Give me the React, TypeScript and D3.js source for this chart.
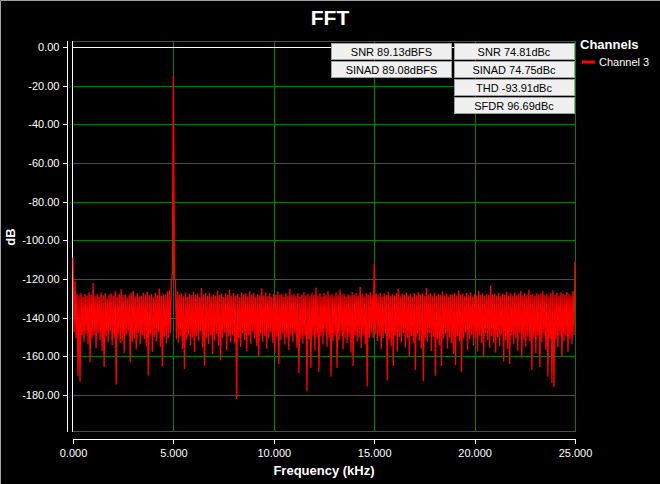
import { useEffect, useRef } from 'react';
import * as d3 from 'd3';

// FFT bins, 0.05 kHz apart (0 .. 25 kHz)
const binWidthKhz = 0.05;
const spectrumDb = [
    -109.0, -147.5, -120.8, -150.6, -127.9, -170.2, -128.6, -173.1, -127.3, -149.1,
    -129.2, -152.4, -127.8, -148.3, -128.5, -153.9, -126.9, -163.0, -128.1, -150.7,
    -122.1, -149.2, -128.7, -155.8, -127.6, -147.9, -129.3, -151.5, -126.8, -157.2,
    -128.4, -165.5, -127.2, -149.6, -130.1, -152.8, -128.0, -146.9, -127.5, -154.1,
    -128.8, -150.3, -126.4, -174.6, -129.0, -148.7, -127.7, -153.2, -125.3, -151.9,
    -128.3, -158.4, -127.9, -149.0, -129.6, -147.3, -128.2, -163.1, -127.0, -152.6,
    -126.1, -150.8, -128.9, -156.4, -127.4, -148.2, -129.1, -153.7, -128.6, -149.4,
    -127.3, -151.2, -128.0, -154.9, -126.7, -170.0, -128.5, -148.5, -127.8, -157.7,
    -129.4, -150.0, -127.1, -152.3, -128.3, -147.6, -124.9, -155.1, -128.7, -165.2,
    -127.6, -149.9, -128.2, -153.4, -126.5, -150.5, -125.8, -148.0, -121.2, -116.8,
    -14.5, -119.6, -120.8, -150.9, -126.3, -153.0, -128.1, -149.3, -127.4, -156.2,
    -128.9, -166.5, -127.0, -151.4, -129.2, -148.8, -127.7, -154.3, -128.4, -150.1,
    -126.6, -157.9, -128.0, -149.5, -127.5, -152.1, -129.5, -147.2, -124.6, -155.4,
    -128.2, -165.0, -127.3, -150.4, -128.8, -153.6, -127.1, -149.1, -129.0, -158.8,
    -127.9, -151.7, -128.6, -148.4, -126.2, -154.5, -128.3, -162.0, -127.6, -150.2,
    -129.3, -147.8, -127.4, -156.9, -128.1, -149.7, -125.6, -152.9, -128.7, -148.9,
    -127.2, -153.3, -128.5, -182.0, -127.8, -150.6, -129.4, -155.2, -126.9, -148.1,
    -128.0, -151.6, -127.5, -157.4, -128.9, -149.2, -126.4, -153.8, -128.2, -147.4,
    -127.3, -150.9, -129.1, -154.7, -127.9, -160.3, -128.4, -148.6, -124.8, -152.4,
    -128.6, -149.5, -127.0, -156.1, -128.8, -150.7, -127.4, -147.7, -129.2, -153.1,
    -127.7, -158.3, -128.3, -149.8, -126.5, -164.0, -128.1, -151.5, -127.6, -148.3,
    -129.0, -154.0, -127.2, -150.3, -128.7, -156.7, -125.1, -149.0, -128.4, -152.7,
    -127.9, -148.2, -128.6, -155.6, -127.3, -168.6, -129.3, -150.8, -128.0, -153.5,
    -126.8, -149.4, -128.5, -178.0, -127.7, -151.1, -128.9, -166.0, -127.1, -148.7,
    -128.3, -157.0, -124.5, -150.0, -128.8, -168.0, -127.5, -149.6, -129.1, -153.9,
    -127.4, -147.5, -128.2, -155.0, -126.3, -150.4, -128.7, -170.5, -127.8, -152.2,
    -128.9, -149.1, -127.0, -166.0, -128.4, -151.8, -125.4, -148.3, -128.1, -156.5,
    -127.6, -150.6, -129.2, -153.3, -127.9, -149.8, -128.5, -158.1, -126.7, -165.0,
    -128.3, -148.9, -127.2, -152.5, -128.8, -150.2, -124.2, -155.7, -127.6, -149.3,
    -128.9, -153.6, -127.4, -175.6, -128.1, -150.1, -126.9, -147.9, -128.6, -150.5,
    -112.0, -148.3, -127.7, -152.0, -128.4, -149.7, -127.1, -156.3, -129.0, -150.5,
    -127.5, -148.4, -128.2, -172.5, -126.6, -151.3, -128.7, -154.6, -127.9, -165.0,
    -128.5, -149.2, -127.3, -157.6, -125.0, -150.0, -128.9, -152.8, -127.6, -148.1,
    -128.1, -155.3, -127.0, -150.7, -128.6, -159.9, -127.8, -149.5, -129.3, -153.0,
    -127.2, -167.0, -128.4, -148.6, -126.8, -151.9, -128.0, -156.0, -127.5, -173.0,
    -128.8, -150.4, -124.7, -152.6, -128.2, -148.0, -127.4, -157.3, -128.9, -149.9,
    -127.1, -170.0, -128.6, -151.2, -127.8, -154.1, -128.3, -165.0, -126.4, -150.8,
    -128.7, -148.5, -127.5, -155.9, -129.1, -150.3, -127.9, -153.4, -128.0, -158.6,
    -127.3, -164.5, -128.5, -149.4, -125.9, -152.3, -128.1, -168.0, -127.6, -150.9,
    -128.9, -147.8, -127.2, -156.8, -128.4, -151.0, -127.0, -148.9, -129.0, -154.4,
    -127.7, -150.2, -128.6, -157.5, -126.1, -149.3, -128.2, -153.2, -127.4, -160.7,
    -128.8, -148.1, -127.9, -151.6, -128.3, -155.5, -123.4, -149.6, -128.0, -152.9,
    -127.5, -158.0, -128.7, -150.0, -127.1, -154.8, -128.9, -148.7, -127.6, -162.7,
    -128.2, -151.5, -126.6, -156.2, -128.5, -164.0, -127.3, -149.0, -128.8, -153.7,
    -127.0, -150.6, -128.4, -157.1, -127.8, -148.2, -126.2, -161.0, -128.6, -151.4,
    -127.4, -155.1, -128.1, -149.7, -125.6, -152.0, -128.3, -167.0, -127.9, -150.3,
    -128.7, -158.4, -127.2, -149.1, -128.0, -165.5, -127.5, -152.6, -126.5, -148.6,
    -128.4, -156.6, -127.7, -170.6, -128.9, -150.7, -127.3, -173.8, -125.8, -176.0,
    -128.1, -151.2, -127.0, -155.4, -128.6, -148.8, -126.9, -160.2, -127.6, -152.1,
    -128.3, -149.5, -126.7, -157.8, -127.8, -150.9, -128.5, -153.8, -126.2, -149.0,
    -111.0
];

const xTicks = [0, 5, 10, 15, 20, 25];
const yTicks = [0, -20, -40, -60, -80, -100, -120, -140, -160, -180];
const statsDbfs = ["SNR 89.13dBFS", "SINAD 89.08dBFS"];
const statsDbc = ["SNR 74.81dBc", "SINAD 74.75dBc", "THD -93.91dBc", "SFDR 96.69dBc"];
const channels = ["Channel 3"];

const font = '"Liberation Sans", Arial, sans-serif';

export default function App() {
    const svgRef = useRef<SVGSVGElement>(null);

    useEffect(() => {
        if (!svgRef.current) return;
        const svg = d3.select(svgRef.current);
        svg.selectAll("*").remove();

        const width = 660;
        const height = 484;
        const plotLeft = 73;
        const plotRight = 575;
        const plotTop = 41;
        const plotBottom = 431;

        const x = d3.scaleLinear().domain([0, 25]).range([plotLeft, plotRight]);
        const y = d3.scaleLinear().domain([0, -180]).range([47, 395]);

        svg.append("rect").attr("width", width).attr("height", height).attr("fill", "#000");
        // thin frame on top/left
        svg.append("path").attr("d", `M0.5,${height}V0.5H${width}`)
            .attr("fill", "none").attr("stroke", "#a0a0a0");

        // Gridlines
        const grid = svg.append("g").attr("shape-rendering", "crispEdges").attr("stroke", "#008000");
        grid.selectAll("line.h")
            .data(yTicks)
            .join("line")
            .attr("class", "h")
            .attr("x1", plotLeft).attr("x2", plotRight)
            .attr("y1", d => Math.round(y(d)) + 0.5).attr("y2", d => Math.round(y(d)) + 0.5);
        grid.selectAll("line.v")
            .data(xTicks.slice(1, -1))
            .join("line")
            .attr("class", "v")
            .attr("x1", d => Math.round(x(d)) + 0.5).attr("x2", d => Math.round(x(d)) + 0.5)
            .attr("y1", plotTop).attr("y2", plotBottom);
        grid.append("path")
            .attr("d", `M${plotLeft},${plotTop + 0.5}H${plotRight + 0.5}V${plotBottom + 0.5}H${plotLeft}`)
            .attr("fill", "none");

        // White markers at 0 dB and 0 Hz
        svg.append("line")
            .attr("x1", plotLeft).attr("x2", plotRight)
            .attr("y1", Math.round(y(0)) + 0.5).attr("y2", Math.round(y(0)) + 0.5)
            .attr("stroke", "#fff").attr("shape-rendering", "crispEdges");
        svg.append("line")
            .attr("x1", Math.round(x(0)) - 0.5).attr("x2", Math.round(x(0)) - 0.5)
            .attr("y1", plotTop).attr("y2", plotBottom + 1)
            .attr("stroke", "#fff").attr("shape-rendering", "crispEdges");

        // Spectrum trace
        const line = d3.line<number>()
            .x((d, i) => x(i * binWidthKhz))
            .y(d => y(d));
        svg.append("path")
            .datum(spectrumDb)
            .attr("d", line)
            .attr("fill", "none")
            .attr("stroke", "#ff0000")
            .attr("stroke-width", 1.3)
            .attr("stroke-linejoin", "miter")
            .attr("stroke-miterlimit", 1);

        // Y axis
        const yAxis = svg.append("g")
            .attr("transform", "translate(67.5,0)")
            .call(d3.axisLeft(y).tickValues(yTicks).tickSize(5).tickPadding(3)
                .tickFormat(d => (+d).toFixed(2)))
            .call(g => g.select(".domain").remove());
        yAxis.selectAll("line").attr("stroke", "#fff").attr("shape-rendering", "crispEdges");
        yAxis.selectAll("text").attr("fill", "#fff").style("font-family", font).style("font-size", "11px");
        svg.append("line")
            .attr("x1", 67.5).attr("x2", 67.5).attr("y1", plotTop).attr("y2", plotBottom + 1)
            .attr("stroke", "#fff").attr("shape-rendering", "crispEdges");

        // X axis
        const xAxis = svg.append("g")
            .attr("transform", "translate(0,438.5)")
            .call(d3.axisBottom(x).tickValues(xTicks).tickSize(5).tickSizeOuter(0).tickPadding(6)
                .tickFormat(d => (+d).toFixed(3)));
        xAxis.select(".domain").attr("stroke", "#fff").attr("shape-rendering", "crispEdges");
        xAxis.selectAll("line").attr("stroke", "#fff").attr("shape-rendering", "crispEdges");
        xAxis.selectAll("text").attr("fill", "#fff").style("font-family", font).style("font-size", "11px");

        // Axis titles
        svg.append("text")
            .attr("x", 324).attr("y", 475)
            .attr("text-anchor", "middle")
            .attr("fill", "#fff")
            .style("font-family", font).style("font-size", "13px").style("font-weight", "bold")
            .text("Frequency (kHz)");
        svg.append("text")
            .attr("transform", "translate(15,237) rotate(-90)")
            .attr("text-anchor", "middle")
            .attr("fill", "#fff")
            .style("font-family", font).style("font-size", "13px").style("font-weight", "bold")
            .text("dB");

        // Title
        svg.append("text")
            .attr("x", 330).attr("y", 25)
            .attr("text-anchor", "middle")
            .attr("fill", "#fff")
            .style("font-family", font).style("font-size", "21px").style("font-weight", "bold")
            .text("FFT");

        // Stat boxes
        const boxColumns = [
            { x0: 331, items: statsDbfs },
            { x0: 453.5, items: statsDbc }
        ];
        boxColumns.forEach(col => {
            const g = svg.append("g");
            g.selectAll("rect")
                .data(col.items)
                .join("rect")
                .attr("x", col.x0 + 0.5)
                .attr("y", (d, i) => 43.5 + i * 18)
                .attr("width", 120)
                .attr("height", 16)
                .attr("fill", "#f0f0f0")
                .attr("stroke", "#a0a0a0")
                .attr("shape-rendering", "crispEdges");
            g.selectAll("text")
                .data(col.items)
                .join("text")
                .attr("x", col.x0 + 60.5)
                .attr("y", (d, i) => 56 + i * 18)
                .attr("text-anchor", "middle")
                .attr("fill", "#000")
                .style("font-family", font).style("font-size", "11px")
                .text(d => d);
        });

        // Legend
        const legend = svg.append("g").attr("transform", "translate(580,0)");
        legend.append("text")
            .attr("x", 0).attr("y", 49)
            .attr("fill", "#fff")
            .style("font-family", font).style("font-size", "13px").style("font-weight", "bold")
            .text("Channels");
        legend.selectAll("line")
            .data(channels)
            .join("line")
            .attr("x1", 2).attr("x2", 15)
            .attr("y1", (d, i) => 62 + i * 16).attr("y2", (d, i) => 62 + i * 16)
            .attr("stroke", "#ff0000").attr("stroke-width", 3);
        legend.selectAll("text.item")
            .data(channels)
            .join("text")
            .attr("class", "item")
            .attr("x", 19)
            .attr("y", (d, i) => 66 + i * 16)
            .attr("fill", "#fff")
            .style("font-family", font).style("font-size", "11px")
            .text(d => d);
    }, []);

    return (
        <div style={{ position: "fixed", left: 0, top: 0, width: 660, height: 484, background: "#000" }}>
            <svg ref={svgRef} width={660} height={484} style={{ display: "block" }}></svg>
        </div>
    );
}
